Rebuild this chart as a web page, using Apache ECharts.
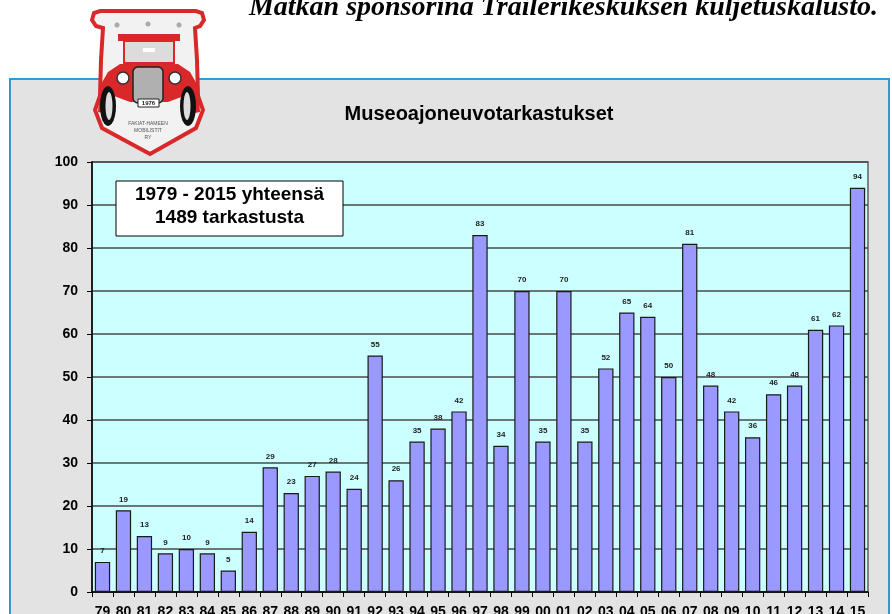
<!DOCTYPE html>
<html>
<head>
<meta charset="utf-8">
<title>Museoajoneuvotarkastukset</title>
<script src="https://cdn.jsdelivr.net/npm/echarts@6/dist/echarts.min.js"></script>
<style>
html,body{margin:0;padding:0;background:#fff;}
#main{width:892px;height:614px;}
</style>
</head>
<body>
<div id="main"></div>
<script>
// vuodet (kaksi viimeistä numeroa) ja tarkastusten määrät
var years = ['79','80','81','82','83','84','85','86','87','88','89','90','91','92','93','94','95','96','97','98','99',
             '00','01','02','03','04','05','06','07','08','09','10','11','12','13','14','15'];
var counts = [7,19,13,9,10,9,5,14,29,23,27,28,24,55,26,35,38,42,83,34,70,
              35,70,35,52,65,64,50,81,48,42,36,46,48,61,62,94];
var yTicks = [0,10,20,30,40,50,60,70,80,90,100];
var headline = 'Matkan sponsorina Trailerikeskuksen kuljetuskalusto.';
var chartTitle = 'Museoajoneuvotarkastukset';
var boxLines = ['1979 - 2015 yhteensä', '1489 tarkastusta'];

var myChart = echarts.init(document.getElementById('main'));
var font = '"Liberation Sans", Arial, sans-serif';

// ellipsi monikulmiona (logon pyörät)
function ellipsePts(cx, cy, rx, ry) {
    var pts = [];
    for (var i = 0; i < 24; i++) {
        var a = i / 24 * Math.PI * 2;
        pts.push([cx + rx * Math.cos(a), cy + ry * Math.sin(a)]);
    }
    return pts;
}

// logo: kilpi + auto
var logo = [
    {type:'polygon', shape:{points:[[92,20],[94,13],[100,11],[196,11],[202,13],[204,20],[200,26],[195,28],[197,60],[198,96],[203,110],[196,128],[150,154],[102,128],[95,110],[100,96],[101,60],[103,28],[96,26]]},
     style:{fill:'#f2f2f2', stroke:'#d8282a', lineWidth:4}, z:10},
    {type:'circle', shape:{cx:117, cy:25, r:2.5}, style:{fill:'#aaa'}, z:11},
    {type:'circle', shape:{cx:148, cy:24, r:2.5}, style:{fill:'#aaa'}, z:11},
    {type:'circle', shape:{cx:179, cy:25, r:2.5}, style:{fill:'#aaa'}, z:11},
    {type:'rect', shape:{x:118, y:34, width:62, height:7}, style:{fill:'#d8282a'}, z:11},
    {type:'rect', shape:{x:124, y:41, width:50, height:22}, style:{fill:'#dcdcdc', stroke:'#d8282a', lineWidth:2}, z:11},
    {type:'rect', shape:{x:143, y:48, width:12, height:4}, style:{fill:'#fff'}, z:12},
    {type:'polygon', shape:{points:[[98,112],[100,86],[108,72],[120,64],[178,64],[190,72],[198,86],[200,112],[190,114],[184,96],[168,102],[130,102],[114,96],[108,114]]},
     style:{fill:'#d8282a'}, z:11},
    {type:'polygon', shape:{points:ellipsePts(108, 106, 8, 20)}, style:{fill:'#111'}, z:12},
    {type:'polygon', shape:{points:ellipsePts(188, 106, 8, 20)}, style:{fill:'#111'}, z:12},
    {type:'polygon', shape:{points:ellipsePts(109, 106, 3.5, 14)}, style:{fill:'#ddd'}, z:13},
    {type:'polygon', shape:{points:ellipsePts(187, 106, 3.5, 14)}, style:{fill:'#ddd'}, z:13},
    {type:'rect', shape:{x:133, y:67, width:30, height:36, r:5}, style:{fill:'#b0b0b0', stroke:'#222', lineWidth:1.5}, z:13},
    {type:'rect', shape:{x:138, y:99, width:21, height:8}, style:{fill:'#fff', stroke:'#222', lineWidth:1}, z:14},
    {type:'text', style:{x:148.5, y:103, text:'1976', fill:'#222', font:'bold 6px ' + font, align:'center', verticalAlign:'middle'}, z:15},
    {type:'circle', shape:{cx:123, cy:78, r:6}, style:{fill:'#fff', stroke:'#333', lineWidth:1.5}, z:13},
    {type:'circle', shape:{cx:175, cy:78, r:6}, style:{fill:'#fff', stroke:'#333', lineWidth:1.5}, z:13},
    {type:'text', style:{x:148, y:131, text:'FAKIAT-HAMEEN\nMOBILISTIT\nRY', fill:'#555', font:'5px ' + font, align:'center', verticalAlign:'middle', lineHeight:7}, z:15}
];

var option = {
    backgroundColor: '#ffffff',
    animation: false,
    graphic: [
        {type:'rect', shape:{x:10, y:79, width:879, height:545}, style:{fill:'#e3e3e3', stroke:'#2f9ad6', lineWidth:2}, z:-10},
        {type:'rect', shape:{x:92, y:162, width:776, height:430}, style:{fill:'#ccffff', stroke:'#808080', lineWidth:2}, z:-5},
        {type:'text', style:{x:878, y:22, text:headline, fill:'#000', font:'italic bold 28px "Liberation Serif", "Times New Roman", serif', align:'right', verticalAlign:'bottom'}, z:5},
        {type:'rect', shape:{x:116, y:181, width:227, height:55}, style:{fill:'#fff', stroke:'#000', lineWidth:1}, z:20},
        {type:'text', style:{x:229.5, y:206.5, text:boxLines.join('\n'), fill:'#000', font:'bold 19px ' + font, align:'center', verticalAlign:'middle', lineHeight:23}, z:21}
    ].concat(logo),
    title: {
        text: chartTitle,
        left: 474,
        top: 99,
        textAlign: 'center',
        textStyle: {fontFamily: font, fontWeight: 'bold', fontSize: 20, color: '#000'}
    },
    grid: {left: 92, right: 24, top: 162, bottom: 22, containLabel: false, outerBoundsMode: 'none'},
    xAxis: {
        type: 'category',
        data: years,
        axisLine: {lineStyle: {color: '#000', width: 1.5}},
        axisTick: {show: true, length: 5, lineStyle: {color: '#000'}},
        axisLabel: {fontFamily: font, fontWeight: 'bold', fontSize: 14, color: '#000', margin: 13, interval: 0}
    },
    yAxis: {
        type: 'value',
        min: yTicks[0],
        max: yTicks[yTicks.length - 1],
        interval: 10,
        axisLine: {show: true, lineStyle: {color: '#000', width: 1.5}},
        axisTick: {show: true, length: 5, lineStyle: {color: '#000'}},
        axisLabel: {fontFamily: font, fontWeight: 'bold', fontSize: 14, color: '#000', margin: 14},
        splitLine: {lineStyle: {color: '#4a4a4a', width: 1.5}}
    },
    series: [{
        type: 'bar',
        data: counts,
        barCategoryGap: '27%',
        itemStyle: {color: '#9999ff', borderColor: '#1a1a1a', borderWidth: 1.2},
        label: {show: true, position: 'top', distance: 7, fontFamily: font, fontWeight: 'bold', fontSize: 8, color: '#222'}
    }]
};
myChart.setOption(option);
</script>
</body>
</html>
